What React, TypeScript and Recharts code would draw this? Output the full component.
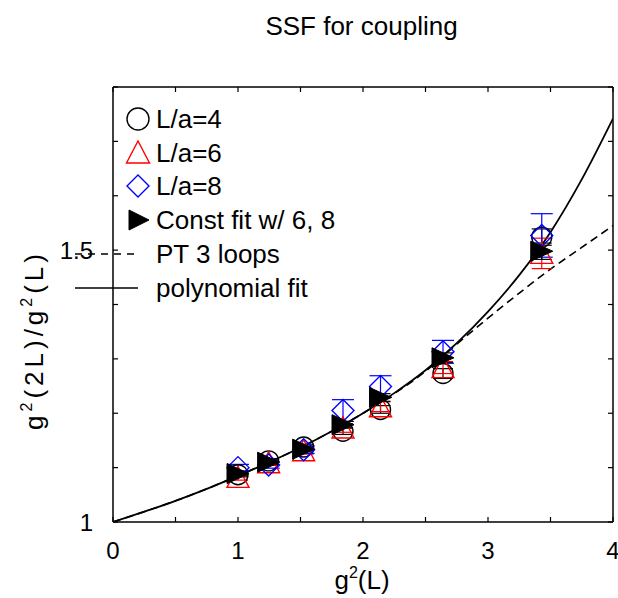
import React from 'react';
import { ComposedChart, Line, Scatter, XAxis, YAxis, ErrorBar, Legend } from 'recharts';

// ---- data ----
const couplings = [1.0, 1.245, 1.525, 1.84, 2.14, 2.64, 3.43];

const l4Values = [1.087, 1.1125, 1.138, 1.167, 1.207, 1.273, 1.524];
const l4Errors = [0.004, 0.004, 0.005, 0.006, 0.007, 0.009, 0.015];

const l6Values = [1.082, 1.109, 1.131, 1.173, 1.212, 1.284, 1.494];
const l6Errors = [0.005, 0.005, 0.006, 0.008, 0.009, 0.011, 0.028];

const l8Values = [1.1, 1.105, 1.133, 1.205, 1.249, 1.313, 1.527];
const l8Errors = [0.006, 0.006, 0.007, 0.02, 0.02, 0.021, 0.04];

const fitValues = [1.089, 1.11, 1.134, 1.179, 1.229, 1.302, 1.498];
const fitErrors = [0.004, 0.004, 0.005, 0.006, 0.007, 0.009, 0.015];

const curveX = [0, 0.25, 0.5, 0.75, 1, 1.25, 1.5, 1.75, 2, 2.25, 2.5, 2.75, 3, 3.25, 3.5, 3.75, 4];
const polyFitY = [1, 1.019, 1.039, 1.061, 1.085, 1.11, 1.137, 1.167, 1.2, 1.237, 1.279, 1.329, 1.387, 1.454, 1.533, 1.63, 1.742];
const pt3LoopY = [1, 1.019, 1.039, 1.061, 1.085, 1.11, 1.137, 1.167, 1.2, 1.236, 1.277, 1.327, 1.375, 1.421, 1.465, 1.505, 1.545];

const xTicks = [0, 0.5, 1, 1.5, 2, 2.5, 3, 3.5, 4];
const xTickLabels = [0, 1, 2, 3, 4];
const yTicks = [1, 1.1, 1.2, 1.3, 1.4, 1.5, 1.6, 1.7, 1.8];
const yTickLabels = [1, 1.5];

const legendNames = ['L/a=4', 'L/a=6', 'L/a=8', 'Const fit w/ 6, 8', 'PT 3 loops', 'polynomial fit'];

const titleText = 'SSF for coupling';

// ---- build series ----
const toPoints = (vals: number[], errs: number[]) =>
  couplings.map((x, i) => ({ x, y: vals[i], err: errs[i] }));
const l4Data = toPoints(l4Values, l4Errors);
const l6Data = toPoints(l6Values, l6Errors);
const l8Data = toPoints(l8Values, l8Errors);
const fitData = toPoints(fitValues, fitErrors);
const polyData = curveX.map((x, i) => ({ x, y: polyFitY[i] }));
const ptData = curveX.map((x, i) => ({ x, y: pt3LoopY[i] }));

const FONT = '"Liberation Sans", Arial, Helvetica, sans-serif';
const BLACK = '#000000';
const RED = '#ff0000';
const BLUE = '#0000ff';

// ---- marker shapes ----
const circleShape = (cx: number, cy: number, r = 10) => (
  <circle cx={cx} cy={cy} r={r} fill="none" stroke={BLACK} strokeWidth={1.4} />
);
const triUpShape = (cx: number, cy: number, s = 11) => (
  <polygon
    points={`${cx},${cy - s} ${cx - s},${cy + s - 1} ${cx + s},${cy + s - 1}`}
    fill="none"
    stroke={RED}
    strokeWidth={1.4}
  />
);
const diamondShape = (cx: number, cy: number, s = 11) => (
  <polygon
    points={`${cx},${cy - s} ${cx + s},${cy} ${cx},${cy + s} ${cx - s},${cy}`}
    fill="none"
    stroke={BLUE}
    strokeWidth={1.4}
  />
);
const triRightShape = (cx: number, cy: number, s = 11) => (
  <polygon
    points={`${cx - s},${cy - 10} ${cx - s},${cy + 10} ${cx + s},${cy}`}
    fill={BLACK}
    stroke={BLACK}
    strokeWidth={1}
  />
);

// ---- ticks ----
const BottomTick = (props: any) => {
  const { x, y, payload } = props;
  const v = payload.value;
  const labeled = xTickLabels.some((t) => Math.abs(t - v) < 1e-9);
  return (
    <g>
      <line x1={x} y1={y} x2={x} y2={y - 5} stroke={BLACK} strokeWidth={1.2} />
      {labeled && (
        <text x={x} y={y + 37} textAnchor="middle" fontSize={24} fontFamily={FONT} fill={BLACK}>
          {String(v)}
        </text>
      )}
    </g>
  );
};
const TopTick = (props: any) => {
  const { x, y } = props;
  return <line x1={x} y1={y} x2={x} y2={y + 5} stroke={BLACK} strokeWidth={1.2} />;
};
const LeftTick = (props: any) => {
  const { x, y, payload } = props;
  const v = payload.value;
  const labeled = yTickLabels.some((t) => Math.abs(t - v) < 1e-9);
  return (
    <g>
      <line x1={x} y1={y} x2={x + 5} y2={y} stroke={BLACK} strokeWidth={1.2} />
      {labeled && (
        <text x={x - 20} y={y + 8.5} textAnchor="end" fontSize={24} fontFamily={FONT} fill={BLACK}>
          {String(Math.round(v * 10) / 10)}
        </text>
      )}
    </g>
  );
};
const RightTick = (props: any) => {
  const { x, y } = props;
  return <line x1={x} y1={y} x2={x - 5} y2={y} stroke={BLACK} strokeWidth={1.2} />;
};

// ---- labels ----
const TitleLabel = () => (
  <text x={361.5} y={35} textAnchor="middle" fontSize={26} fontFamily={FONT} fill={BLACK}>
    {titleText}
  </text>
);
const XLabel = () => (
  <text x={362} y={589} textAnchor="middle" fontSize={26} fontFamily={FONT} fill={BLACK}>
    g<tspan dy={-11} fontSize={16}>2</tspan>
    <tspan dy={11}>(L)</tspan>
  </text>
);
const YLabel = () => (
  <text
    x={0}
    y={0}
    transform="translate(43,340) rotate(-90)"
    textAnchor="middle"
    fontSize={26}
    fontFamily={FONT}
    fill={BLACK}
    letterSpacing={4}
  >
    g<tspan dy={-11} fontSize={16}>2</tspan>
    <tspan dy={11}>(2L)/g</tspan>
    <tspan dy={-11} fontSize={16}>2</tspan>
    <tspan dy={11}>(L)</tspan>
  </text>
);

// ---- legend ----
const rowY = [119, 152.5, 186, 220, 254, 288];
const LegendBox = () => (
  <svg width={618} height={598} style={{ position: 'absolute', left: 0, top: 0, overflow: 'visible' }}>
    <TitleLabel />
    {circleShape(138, rowY[0], 11)}
    {triUpShape(138, rowY[1], 11.5)}
    {diamondShape(138, rowY[2], 11)}
    {triRightShape(139, rowY[3], 10)}
    <line x1={75} y1={rowY[4]} x2={138} y2={rowY[4]} stroke={BLACK} strokeWidth={1.3} strokeDasharray="7 6" />
    <line x1={75} y1={rowY[5]} x2={138} y2={rowY[5]} stroke={BLACK} strokeWidth={1.5} />
    {legendNames.map((n, i) => (
      <text key={n} x={156} y={rowY[i] + 9.3} fontSize={26} fontFamily={FONT} fill={BLACK}>
        {n}
      </text>
    ))}
  </svg>
);

export default function App() {
  return (
    <div style={{ position: 'absolute', left: 0, top: 0, width: 618, height: 598, background: '#fff' }}>
      <ComposedChart width={618} height={598} margin={{ top: 86, right: 4, bottom: 0, left: 0 }}>
        <XAxis
          xAxisId="b"
          dataKey="x"
          type="number"
          domain={[0, 4]}
          ticks={xTicks}
          interval={0}
          allowDataOverflow
          height={76}
          tickSize={0}
          tickMargin={0}
          tick={BottomTick}
          axisLine={{ stroke: BLACK, strokeWidth: 1.5 }}
          label={XLabel}
        />
        <XAxis
          xAxisId="t"
          orientation="top"
          dataKey="x"
          type="number"
          domain={[0, 4]}
          ticks={xTicks}
          interval={0}
          allowDataOverflow
          height={1}
          tickSize={0}
          tickMargin={0}
          tick={TopTick}
          axisLine={{ stroke: BLACK, strokeWidth: 1.5 }}
        />
        <YAxis
          yAxisId="l"
          type="number"
          domain={[1, 1.8]}
          ticks={yTicks}
          interval={0}
          allowDataOverflow
          width={113}
          tickSize={0}
          tickMargin={0}
          tick={LeftTick}
          axisLine={{ stroke: BLACK, strokeWidth: 1.5 }}
          label={YLabel}
        />
        <YAxis
          yAxisId="r"
          orientation="right"
          type="number"
          domain={[1, 1.8]}
          ticks={yTicks}
          interval={0}
          allowDataOverflow
          width={1}
          tickSize={0}
          tickMargin={0}
          tick={RightTick}
          axisLine={{ stroke: BLACK, strokeWidth: 1.5 }}
        />
        <Legend
          layout="vertical"
          align="center"
          verticalAlign="middle"
          width={618}
          height={598}
          wrapperStyle={{ left: 0, top: 0, width: 618, height: 598, pointerEvents: 'none' }}
          content={LegendBox}
        />
        <Line
          xAxisId="b"
          yAxisId="l"
          data={ptData}
          dataKey="y"
          type="monotone"
          stroke={BLACK}
          strokeWidth={1.6}
          strokeDasharray="8 5"
          dot={false}
          activeDot={false}
          isAnimationActive={false}
        />
        <Line
          xAxisId="b"
          yAxisId="l"
          data={polyData}
          dataKey="y"
          type="monotone"
          stroke={BLACK}
          strokeWidth={1.8}
          dot={false}
          activeDot={false}
          isAnimationActive={false}
        />
        <Scatter
          xAxisId="b"
          yAxisId="l"
          data={l4Data}
          dataKey="y"
          isAnimationActive={false}
          shape={(p: any) => circleShape(p.cx, p.cy)}
        >
          <ErrorBar dataKey="err" direction="y" width={10} stroke={BLACK} strokeWidth={1.2} />
        </Scatter>
        <Scatter
          xAxisId="b"
          yAxisId="l"
          data={l6Data}
          dataKey="y"
          isAnimationActive={false}
          shape={(p: any) => triUpShape(p.cx, p.cy)}
        >
          <ErrorBar dataKey="err" direction="y" width={10} stroke={RED} strokeWidth={1.2} />
        </Scatter>
        <Scatter
          xAxisId="b"
          yAxisId="l"
          data={l8Data}
          dataKey="y"
          isAnimationActive={false}
          shape={(p: any) => diamondShape(p.cx, p.cy)}
        >
          <ErrorBar dataKey="err" direction="y" width={11} stroke={BLUE} strokeWidth={1.2} />
        </Scatter>
        <Scatter
          xAxisId="b"
          yAxisId="l"
          data={fitData}
          dataKey="y"
          isAnimationActive={false}
          shape={(p: any) => triRightShape(p.cx, p.cy)}
        >
          <ErrorBar dataKey="err" direction="y" width={10} stroke={BLACK} strokeWidth={1.2} />
        </Scatter>
      </ComposedChart>
    </div>
  );
}
